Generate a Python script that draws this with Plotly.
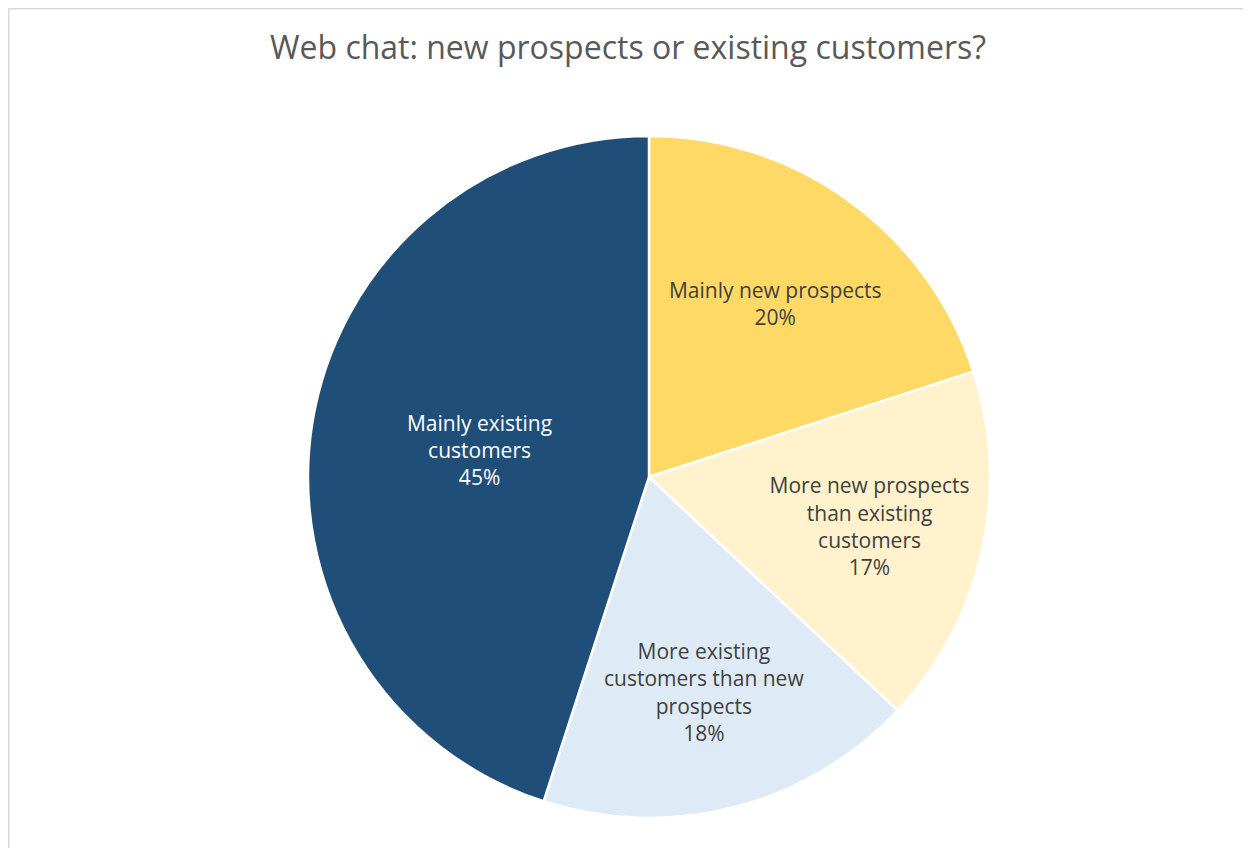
import plotly.graph_objects as go

labels = ["Mainly new prospects",
          "More new prospects than existing customers",
          "More existing customers than new prospects",
          "Mainly existing customers"]
display_labels = ["Mainly new prospects",
                  "More new prospects<br>than existing<br>customers",
                  "More existing<br>customers than new<br>prospects",
                  "Mainly existing<br>customers"]
values = [20, 17, 18, 45]
colors = ["#FFD966", "#FFF2CC", "#DEEBF7", "#1F4E79"]
text_colors = ["#404040", "#404040", "#404040", "#FFFFFF"]

# page body has an 8px margin, so figure coords = screen coords - 8
W, H = 1243, 840
off = 8
cx, top, bot = 649 - off, 136 - off, 818 - off
half = 350

fig = go.Figure(go.Pie(
    labels=labels,
    values=values,
    text=display_labels,
    texttemplate="%{text}<br>%{percent:.0%}",
    textposition="inside",
    insidetextorientation="horizontal",
    sort=False,
    direction="clockwise",
    rotation=0,
    marker=dict(colors=colors, line=dict(color="#FFFFFF", width=2.5)),
    insidetextfont=dict(color=text_colors, size=21, family="Open Sans"),
    domain=dict(x=[(cx - half) / W, (cx + half) / W], y=[1 - bot / H, 1 - top / H]),
    showlegend=False,
    hoverinfo="label+percent",
))

fig.update_layout(
    width=W, height=H,
    margin=dict(l=0, r=0, t=0, b=0),
    paper_bgcolor="white",
    title=dict(text="Web chat: new prospects or existing customers?",
               x=(628 - off) / W, xanchor="center", y=1 - (48 - off) / H, yanchor="middle",
               font=dict(family="Open Sans", size=32, color="#595959")),
    shapes=[dict(type="rect", xref="paper", yref="paper",
                 x0=0.5 / W, x1=1.02, y0=-0.02, y1=1 - 0.5 / H,
                 line=dict(color="#D9D9D9", width=2), fillcolor="rgba(0,0,0,0)")],
)

fig.write_html("out.html")
